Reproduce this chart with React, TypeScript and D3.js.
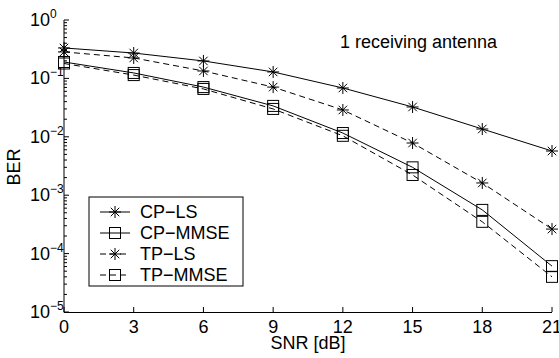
import React from "react";
import * as d3 from "d3";

const snr = [0, 3, 6, 9, 12, 15, 18, 21];
const cpLS = [0.332, 0.272, 0.199, 0.129, 0.0685, 0.0324, 0.0136, 0.00571];
const cpMMSE = [0.191, 0.124, 0.071, 0.0338, 0.0116, 0.003, 0.00056, 6.1e-5];
const tpLS = [0.284, 0.224, 0.134, 0.071, 0.0288, 0.00783, 0.00162, 0.000263];
const tpMMSE = [0.18, 0.114, 0.066, 0.03, 0.0104, 0.00222, 0.00035, 4.0e-5];
const xTicks = [0, 3, 6, 9, 12, 15, 18, 21];
const yExps = [0, -1, -2, -3, -4, -5];
const seriesNames = ["CP\u2212LS", "CP\u2212MMSE", "TP\u2212LS", "TP\u2212MMSE"];

const W = 559, H = 358;
const FONT = "Liberation Sans, Arial, Helvetica, sans-serif";

function Star({ x, y, r = 6 }: { x: number; y: number; r?: number }) {
  const d = r * 0.7071;
  return (
    <g stroke="#000" strokeWidth={1}>
      <line x1={x - r} y1={y} x2={x + r} y2={y} />
      <line x1={x} y1={y - r} x2={x} y2={y + r} />
      <line x1={x - d} y1={y - d} x2={x + d} y2={y + d} />
      <line x1={x - d} y1={y + d} x2={x + d} y2={y - d} />
    </g>
  );
}
function Square({ x, y, r = 5.5 }: { x: number; y: number; r?: number }) {
  return <rect x={x - r} y={y - r} width={2 * r} height={2 * r} fill="none" stroke="#000" strokeWidth={1} />;
}

export default function App() {
  const x = d3.scaleLinear().domain([0, 21]).range([64, 552]);
  const y = d3.scaleLog().domain([1e-5, 1]).range([312, 20]);
  const line = d3.line<number>().x((_, i) => x(snr[i])).y((v) => y(v));
  const series = [
    { data: cpLS, dash: undefined, marker: "star" },
    { data: cpMMSE, dash: undefined, marker: "square" },
    { data: tpLS, dash: "6,4", marker: "star" },
    { data: tpMMSE, dash: "6,4", marker: "square" },
  ];
  const minor: number[] = [];
  for (let e = -5; e < 0; e++) for (let m = 2; m <= 9; m++) minor.push(m * Math.pow(10, e));

  const lgX = 89, lgY = 197, lgW = 154, lgH = 89;
  const rowY = [212, 233, 254, 275];

  return (
    <svg width={W} height={H} style={{ position: "absolute", left: 0, top: 0 }} fontFamily={FONT}>
      <rect width={W} height={H} fill="#fff" />
      {/* axes */}
      <line x1={64} y1={20} x2={64} y2={312.5} stroke="#000" strokeWidth={1} />
      <line x1={64} y1={312.5} x2={552} y2={312.5} stroke="#000" strokeWidth={1} />
      {xTicks.map((t) => (
        <g key={t}>
          <line x1={x(t)} y1={312} x2={x(t)} y2={307} stroke="#000" />
          <text x={x(t)} y={333} textAnchor="middle" fontSize={18}>{t}</text>
        </g>
      ))}
      {yExps.map((e) => (
        <g key={e}>
          <line x1={64} y1={y(Math.pow(10, e))} x2={69} y2={y(Math.pow(10, e))} stroke="#000" />
          <text x={50} y={y(Math.pow(10, e)) + 6} textAnchor="end" fontSize={18}>10</text>
          <text x={50} y={y(Math.pow(10, e)) - 2} fontSize={12}>{e === 0 ? "0" : "\u2212" + -e}</text>
        </g>
      ))}
      {minor.map((m, i) => (
        <line key={i} x1={64} y1={y(m)} x2={67} y2={y(m)} stroke="#000" />
      ))}
      <text x={308} y={349} textAnchor="middle" fontSize={18}>SNR [dB]</text>
      <text transform="translate(20,167) rotate(-90)" textAnchor="middle" fontSize={18}>BER</text>
      <text x={340} y={48} fontSize={18}>1 receiving antenna</text>
      {/* series */}
      {series.map((s, k) => (
        <g key={k}>
          <path d={line(s.data) || ""} fill="none" stroke="#000" strokeWidth={1} strokeDasharray={s.dash} />
          {s.data.map((v, i) =>
            s.marker === "star" ? (
              <Star key={i} x={x(snr[i])} y={y(v)} />
            ) : (
              <Square key={i} x={x(snr[i])} y={y(v)} />
            )
          )}
        </g>
      ))}
      {/* legend */}
      <rect x={lgX} y={lgY} width={lgW} height={lgH} fill="#fff" stroke="#000" strokeWidth={1} />
      {series.map((s, k) => (
        <g key={k}>
          <line x1={100} y1={rowY[k]} x2={130} y2={rowY[k]} stroke="#000" strokeDasharray={s.dash} />
          {s.marker === "star" ? <Star x={115} y={rowY[k]} /> : <Square x={115} y={rowY[k]} />}
          <text x={140} y={rowY[k] + 6} fontSize={18}>{seriesNames[k]}</text>
        </g>
      ))}
    </svg>
  );
}
